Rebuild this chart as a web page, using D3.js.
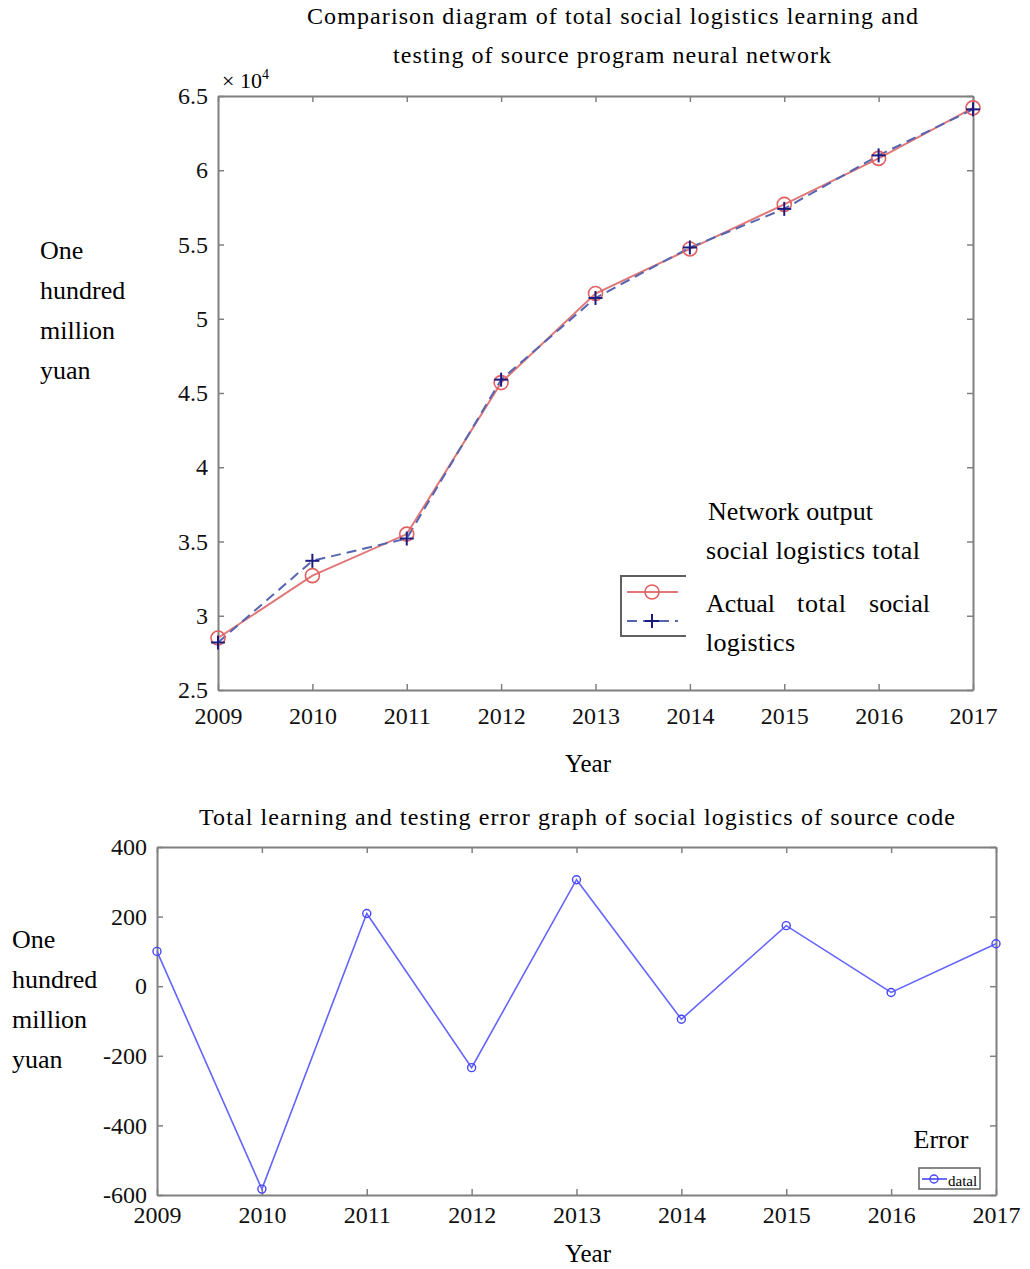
<!DOCTYPE html>
<html><head><meta charset="utf-8">
<script src="https://cdn.jsdelivr.net/npm/d3@7"></script>
<style>
body{margin:0;background:#fff;}
svg{display:block;}
svg text{font-family:"Liberation Serif","Times New Roman",serif !important;}
</style></head>
<body><svg id="c" width="1030" height="1269"></svg>
<script>
// ---- data ----
const years = [2009,2010,2011,2012,2013,2014,2015,2016,2017];
const actualTotal = [2.85,3.27,3.55,4.57,5.17,5.47,5.77,6.08,6.42];   // x10^4, red circles
const networkOutput = [2.82,3.37,3.52,4.59,5.14,5.48,5.74,6.10,6.41]; // x10^4, blue plus
const errorValues = [100,-583,209,-234,306,-95,174,-18,122];
const topYTicks = [2.5,3,3.5,4,4.5,5,5.5,6,6.5];
const bottomYTicks = [-600,-400,-200,0,200,400];
const yLabelLines = ["One","hundred","million","yuan"];

const svg = d3.select("#c");
const axisColor = "#808080";
const SERIF = "Liberation Serif";

function frame(g, x, y, xTicks, yTicks, xFmt, yFmt, fs, xPad){
  const [x0,x1] = x.range(), [y0,y1] = y.range();
  const b = g.append("g").attr("transform",`translate(0,${y0})`)
    .call(d3.axisBottom(x).tickValues(xTicks).tickSizeInner(-6).tickSizeOuter(0).tickPadding(xPad).tickFormat(xFmt));
  const t = g.append("g").attr("transform",`translate(0,${y1})`)
    .call(d3.axisTop(x).tickValues(xTicks).tickSizeInner(-6).tickSizeOuter(0).tickFormat(""));
  const l = g.append("g").attr("transform",`translate(${x0},0)`)
    .call(d3.axisLeft(y).tickValues(yTicks).tickSizeInner(-6).tickSizeOuter(0).tickPadding(10).tickFormat(yFmt));
  const r = g.append("g").attr("transform",`translate(${x1},0)`)
    .call(d3.axisRight(y).tickValues(yTicks).tickSizeInner(-6).tickSizeOuter(0).tickFormat(""));
  [b,t,l,r].forEach(a=>{
    a.attr("font-family",SERIF).attr("font-size",fs);
    a.selectAll("path.domain").attr("stroke",axisColor).attr("stroke-width",2);
    a.selectAll(".tick line").attr("stroke",axisColor).attr("stroke-width",1.5);
    a.selectAll("text").attr("fill","#111").attr("font-family",SERIF).style("font-family",SERIF).style("font-size",fs+"px");
  });
}
function txt(g,s,x,y,fs,opts={}){
  const t = g.append("text").attr("x",x).attr("y",y).style("font-size",fs+"px").text(s);
  if(opts.anchor) t.attr("text-anchor",opts.anchor);
  if(opts.w) t.attr("textLength",opts.w).attr("lengthAdjust","spacing");
  return t;
}

// ---------- TOP CHART ----------
const gt = svg.append("g");
const xT = d3.scaleLinear().domain([2009,2017]).range([218,973]);
const yT = d3.scaleLinear().domain([2.5,6.5]).range([690,96]);
frame(gt, xT, yT, years, topYTicks, d3.format("d"), d=>String(d), 24, 17);

txt(gt,"Comparison diagram of total social logistics learning and",307,24,24,{w:611});
txt(gt,"testing of source program neural network",393,63,24,{w:438});
const xe = gt.append("text").attr("x",222).attr("y",88).style("font-size","22px");
xe.append("tspan").text("\u00d7 10");
xe.append("tspan").attr("dy",-9).style("font-size","14px").text("4");
yLabelLines.forEach((s,i)=>txt(gt,s,40,259+i*40,26));
txt(gt,"Year",588,772,25,{anchor:"middle"});

const lineT = d3.line().x((d,i)=>xT(years[i])).y(d=>yT(d));
gt.append("path").datum(actualTotal).attr("d",lineT).attr("fill","none").attr("stroke","#e07878").attr("stroke-width",2);
gt.append("path").datum(networkOutput).attr("d",lineT).attr("fill","none").attr("stroke","#5565b0").attr("stroke-width",2).attr("stroke-dasharray","10,6");
gt.selectAll("circle.a").data(actualTotal).join("circle").attr("cx",(d,i)=>xT(years[i])).attr("cy",d=>yT(d)).attr("r",7)
  .attr("fill","none").attr("stroke","#e06060").attr("stroke-width",1.6);
const plus = (g,cx,cy,s,col)=>{
  g.append("line").attr("x1",cx-s).attr("x2",cx+s).attr("y1",cy).attr("y2",cy).attr("stroke",col).attr("stroke-width",2);
  g.append("line").attr("x1",cx).attr("x2",cx).attr("y1",cy-s).attr("y2",cy+s).attr("stroke",col).attr("stroke-width",2);
};
networkOutput.forEach((d,i)=>plus(gt,xT(years[i]),yT(d),7,"#1c1c80"));

// legend (top)
const lg = gt.append("g");
lg.append("path").attr("d","M686,576 H621 V636 H686").attr("fill","none").attr("stroke","#606060").attr("stroke-width",2);
lg.append("line").attr("x1",627).attr("x2",678).attr("y1",592).attr("y2",592).attr("stroke","#e07878").attr("stroke-width",2);
lg.append("circle").attr("cx",652).attr("cy",592).attr("r",7).attr("fill","none").attr("stroke","#e06060").attr("stroke-width",1.6);
lg.append("line").attr("x1",627).attr("x2",678).attr("y1",621).attr("y2",621).attr("stroke","#5565b0").attr("stroke-width",2).attr("stroke-dasharray","10,6");
plus(lg,652,621,7,"#1c1c80");
txt(lg,"Network output",708,520,26,{w:165});
txt(lg,"social logistics total",706,559,26,{w:214});
txt(lg,"Actual",706,612,26,{w:69});
txt(lg,"total",797,612,26,{w:49});
txt(lg,"social",869,612,26,{w:61});
txt(lg,"logistics",706,651,26,{w:89});

// ---------- BOTTOM CHART ----------
const gb = svg.append("g");
const xB = d3.scaleLinear().domain([2009,2017]).range([157,996]);
const yB = d3.scaleLinear().domain([-600,400]).range([1195,847]);
frame(gb, xB, yB, years, bottomYTicks, d3.format("d"), d=>String(d), 24, 11);
txt(gb,"Total learning and testing error graph of social logistics of source code",199,825,24,{w:756});
yLabelLines.forEach((s,i)=>txt(gb,s,12,948+i*40,26));
txt(gb,"Year",588,1262,25,{anchor:"middle"});
txt(gb,"Error",941,1148,26,{anchor:"middle"});

const lineB = d3.line().x((d,i)=>xB(years[i])).y(d=>yB(d));
gb.append("path").datum(errorValues).attr("d",lineB).attr("fill","none").attr("stroke","#6464ff").attr("stroke-width",1.6);
gb.selectAll("circle.e").data(errorValues).join("circle").attr("cx",(d,i)=>xB(years[i])).attr("cy",d=>yB(d)).attr("r",4)
  .attr("fill","none").attr("stroke","#4646ff").attr("stroke-width",1.4);

const lb = gb.append("g");
lb.append("rect").attr("x",919).attr("y",1168).attr("width",61).attr("height",21).attr("fill","#fff").attr("stroke","#606060").attr("stroke-width",1.5);
lb.append("line").attr("x1",922).attr("x2",947).attr("y1",1179).attr("y2",1179).attr("stroke","#4646ff").attr("stroke-width",1.6);
lb.append("circle").attr("cx",934).attr("cy",1179).attr("r",4).attr("fill","none").attr("stroke","#4646ff").attr("stroke-width",1.4);
txt(lb,"datal",948,1186,15);
</script></body></html>
